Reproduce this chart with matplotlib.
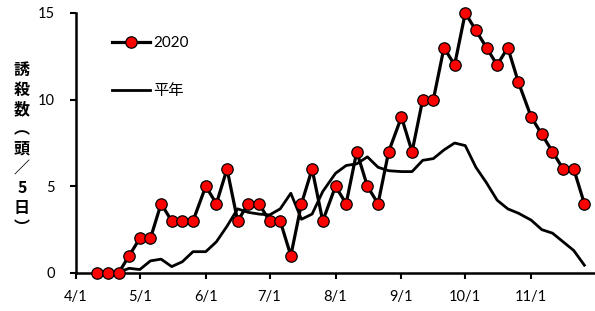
import matplotlib
matplotlib.use("Agg")
import matplotlib.pyplot as plt
from datetime import date

# 半旬 dates (month/day, 2020)
dates = ["4/11", "4/16", "4/21", "4/26",
         "5/1", "5/6", "5/11", "5/16", "5/21", "5/26",
         "6/1", "6/6", "6/11", "6/16", "6/21", "6/26",
         "7/1", "7/6", "7/11", "7/16", "7/21", "7/26",
         "8/1", "8/6", "8/11", "8/16", "8/21", "8/26",
         "9/1", "9/6", "9/11", "9/16", "9/21", "9/26",
         "10/1", "10/6", "10/11", "10/16", "10/21", "10/26",
         "11/1", "11/6", "11/11", "11/16", "11/21", "11/26"]

y2020 = [0, 0, 0, 1,
         2, 2, 4, 3, 3, 3,
         5, 4, 6, 3, 4, 4,
         3, 3, 1, 4, 6, 3,
         5, 4, 7, 5, 4, 7,
         9, 7, 10, 10, 13, 12,
         15, 14, 13, 12, 13, 11,
         9, 8, 7, 6, 6, 4]

normal = [0, 0, 0.05, 0.27,
          0.2, 0.7, 0.8, 0.37, 0.65, 1.23,
          1.23, 1.8, 2.7, 3.7, 3.5, 3.4,
          3.35, 3.7, 4.6, 3.1, 3.4, 4.7,
          5.75, 6.2, 6.3, 6.7, 6.1, 5.9,
          5.85, 5.85, 6.5, 6.6, 7.1, 7.5,
          7.35, 6.1, 5.2, 4.2, 3.7, 3.45,
          3.05, 2.5, 2.3, 1.8, 1.3, 0.45]

tick_labels = ["4/1", "5/1", "6/1", "7/1", "8/1", "9/1", "10/1", "11/1"]
ylabel_chars = ["誘", "殺", "数", "︵", "頭", "／", "5", "日", "︶"]

def to_date(s):
    m, d = s.split("/")
    return date(2020, int(m), int(d))

x = [to_date(s) for s in dates]

plt.rcParams['font.family'] = ['Lato', 'Noto Sans CJK JP', 'DejaVu Sans']

fig = plt.figure(figsize=(5.95, 3.11), dpi=100)
ax = fig.add_axes([76/595, 1 - 273/311, (595 - 76)/595, (273 - 13)/311])

ax.plot(x, y2020, color='black', lw=2.3, marker='o', markersize=8.2,
        markerfacecolor='#ff0000', markeredgecolor='black', markeredgewidth=0.9,
        label='2020', zorder=3)
ax.plot(x, normal, color='black', lw=2.0, label='平年', zorder=2)

ax.set_xlim(date(2020, 4, 1), date(2020, 12, 1))
ax.set_ylim(0, 15)
ax.set_xticks([to_date(s) for s in tick_labels])
ax.set_xticklabels(tick_labels)
ax.set_yticks([0, 5, 10, 15])

for s in ['top', 'right']:
    ax.spines[s].set_visible(False)
for s in ['left', 'bottom']:
    ax.spines[s].set_linewidth(1.8)
ax.tick_params(axis='both', direction='out', length=4, width=1.5, labelsize=10.5, colors='black')
ax.tick_params(axis='y', pad=11)
ax.tick_params(axis='x', pad=8)
for line in ax.lines:
    line.set_clip_on(False)

leg = ax.legend(loc='upper left', bbox_to_anchor=(0.058, 0.935), frameon=False,
                handlelength=2.5, labelspacing=2.25, handletextpad=0.2,
                fontsize=11, borderaxespad=0)

fig.text(22/595, 1 - 149/311, "\n".join(ylabel_chars), ha='center', va='center',
         fontsize=11.5, fontweight='bold', linespacing=1.28,
         family=['Noto Sans CJK JP', 'DejaVu Sans'])

fig.savefig("out.png", dpi=100)
